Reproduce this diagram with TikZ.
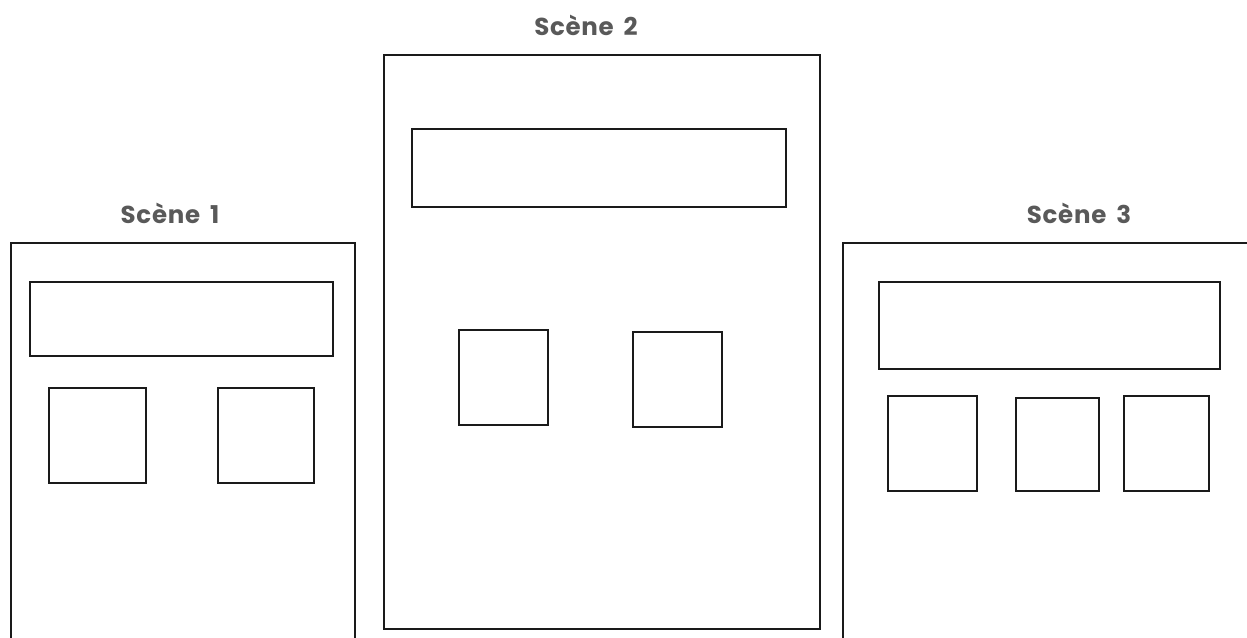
\documentclass[tikz,border=0pt]{standalone}
\usepackage{fontspec}
\setmainfont{Poppins}
\definecolor{labelgrey}{HTML}{595959}
\definecolor{linegrey}{HTML}{1A1A1A}
\begin{document}
\begin{tikzpicture}[x=1pt,y=-1pt,
  frame/.style={draw=linegrey,line width=1.2pt},
  panel/.style={draw=linegrey,line width=1.2pt},
  scenelabel/.style={text=labelgrey,font=\fontsize{24.5}{30}\selectfont\bfseries\addfontfeatures{LetterSpace=3},inner sep=0pt,anchor=base}]
\useasboundingbox (0,0) rectangle (1247,637);
% Scene 1
\draw[frame] (11,640) -- (11,243) -- (355,243) -- (355,640);
\draw[panel] (30,282) rectangle (333,356);
\draw[panel] (49,388) rectangle (146,483);
\draw[panel] (218,388) rectangle (314,483);
\node[scenelabel] (s1) at (170,223) {Scène\hspace{4pt} 1};
% Scene 2
\draw[frame] (384,55) rectangle (820,629);
\draw[panel] (412,129) rectangle (786,207);
\draw[panel] (459,330) rectangle (548,425);
\draw[panel] (633,332) rectangle (722,427);
\node[scenelabel] (s2) at (586,35) {Scène\hspace{4pt} 2};
% Scene 3
\draw[frame] (843,640) -- (843,243) -- (1250,243);
\draw[panel] (879,282) rectangle (1220,369);
\draw[panel] (888,396) rectangle (977,491);
\draw[panel] (1016,398) rectangle (1099,491);
\draw[panel] (1124,396) rectangle (1209,491);
\node[scenelabel] (s3) at (1079,223) {Scène\hspace{4pt} 3};
\end{tikzpicture}
\end{document}
